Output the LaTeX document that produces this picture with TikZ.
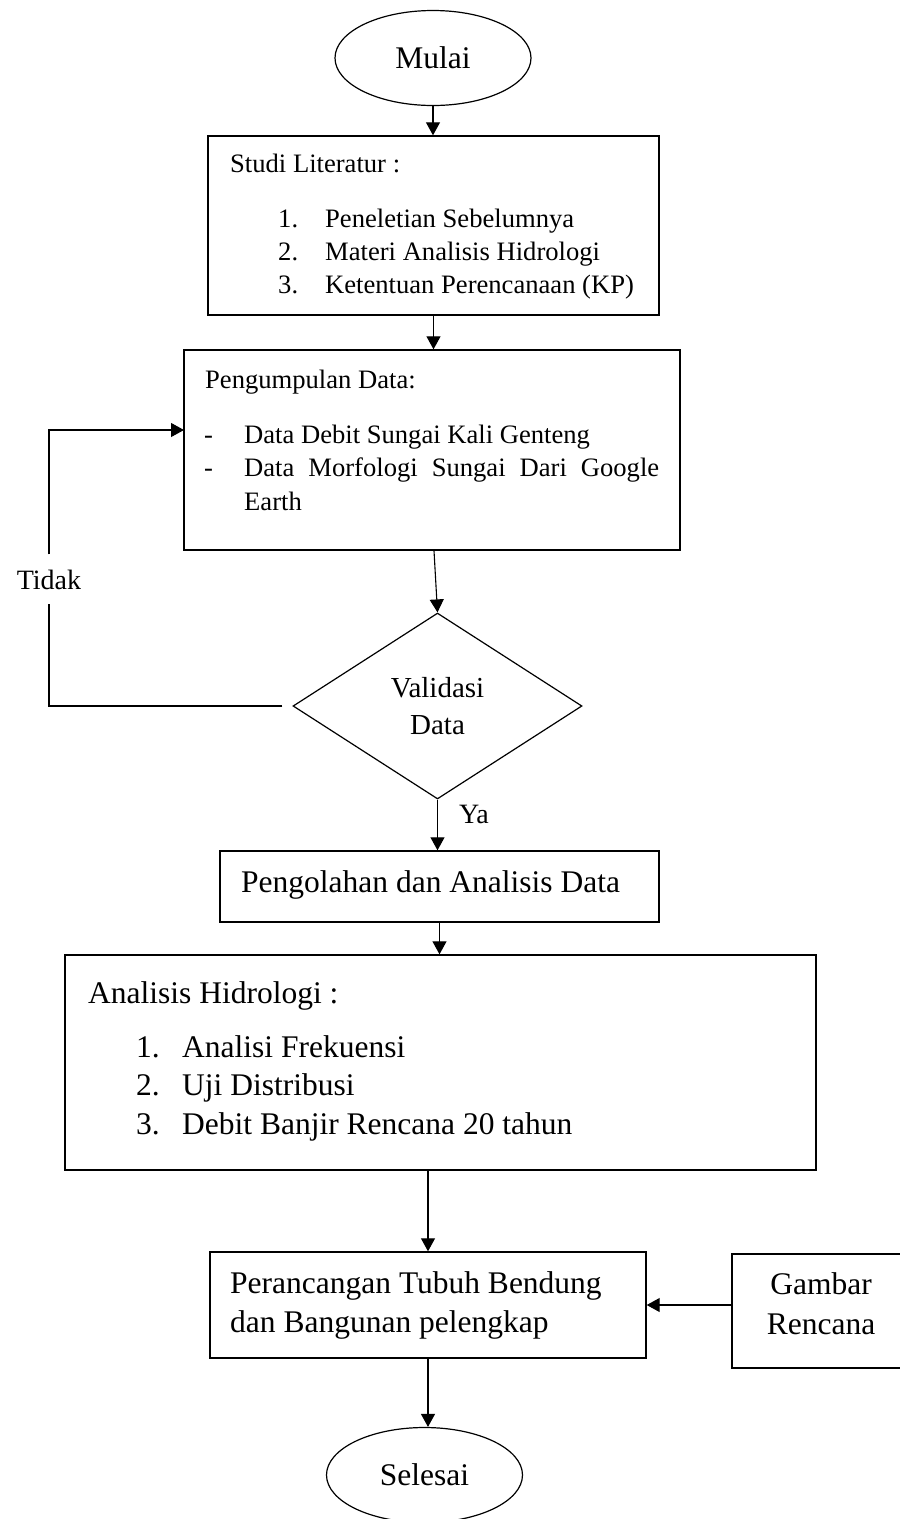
\documentclass[tikz,border=0pt]{standalone}
\usepackage{fontspec}
\setmainfont{Liberation Serif}
\usetikzlibrary{shapes.geometric,arrows.meta}

\newcommand{\fsmid}{\fontsize{26.6}{32}\selectfont}
\newcommand{\fsbig}{\fontsize{31.5}{38}\selectfont}

\tikzset{
  flowbox/.style={rectangle, draw=black, line width=1.4pt, inner sep=0pt},
  terminal/.style={ellipse, draw=black, line width=1.2pt, inner sep=0pt,
    minimum width=196pt, minimum height=95pt, font=\fsbig},
  decision/.style={diamond, draw=black, line width=1.2pt, inner sep=0pt,
    minimum width=289pt, minimum height=186pt, align=center,
    font=\fontsize{29}{37}\selectfont},
  boxtext/.style={anchor=base west, inner sep=0pt, text=black},
  flowline/.style={line width=1.1pt},
  flowarrow/.style={flowline, -{Triangle[length=13pt,width=14pt]}},
}

\begin{document}
\begin{tikzpicture}[x=1pt, y=-1pt]
  \useasboundingbox (0,0) rectangle (900,1519);

  % start
  \node[terminal] (mulai) at (433,58) {Mulai};

  % studi literatur
  \node[flowbox, minimum width=451pt, minimum height=179pt]
    (studi) at (433.5,225.5) {};
  \node[boxtext, font=\fsmid] (studiT) at (230,172) {Studi Literatur :};
  \node[boxtext, font=\fsmid] (studiN1) at (278,227) {1.};
  \node[boxtext, font=\fsmid] (studi1) at (325,227) {Peneletian Sebelumnya};
  \node[boxtext, font=\fsmid] (studiN2) at (278,260) {2.};
  \node[boxtext, font=\fsmid] (studi2) at (325,260) {Materi Analisis Hidrologi};
  \node[boxtext, font=\fsmid] (studiN3) at (278,293) {3.};
  \node[boxtext, font=\fsmid] (studi3) at (325,293) {Ketentuan Perencanaan (KP)};

  % pengumpulan data
  \node[flowbox, minimum width=496pt, minimum height=200pt]
    (pengumpulan) at (432,450) {};
  \node[boxtext, font=\fsmid] (dataT) at (205,388) {Pengumpulan Data:};
  \node[boxtext, font=\fsmid] (dataD1) at (204,443) {-};
  \node[boxtext, font=\fsmid] (data1) at (244,443) {Data Debit Sungai Kali Genteng};
  \node[boxtext, font=\fsmid] (dataD2) at (204,476) {-};
  \node[boxtext, font=\fsmid] (data2) at (244,476)
    {\makebox[415pt][s]{Data Morfologi Sungai Dari Google}};
  \node[boxtext, font=\fsmid] (data2b) at (244,510) {Earth};

  % validasi
  \node[decision] (validasi) at (437.5,706) {Validasi\\Data};
  \node[anchor=base, inner xsep=0pt, inner ysep=15pt,
    font=\fontsize{28}{32}\selectfont] (tidak) at (49,589) {Tidak};
  \node[anchor=base, inner sep=0pt, font=\fontsize{28}{32}\selectfont]
    (ya) at (474,823) {Ya};
  \coordinate (balik) at (184,430);

  % pengolahan
  \node[flowbox, minimum width=439pt, minimum height=71pt]
    (pengolahan) at (439.5,886.5) {};
  \node[boxtext, font=\fsbig] (olahT) at (241,892) {Pengolahan dan Analisis Data};

  % analisis hidrologi
  \node[flowbox, minimum width=751pt, minimum height=215pt]
    (analisis) at (440.5,1062.5) {};
  \node[boxtext, font=\fsbig] (hidroT) at (88,1003) {Analisis Hidrologi :};
  \node[boxtext, font=\fsbig] (hidroN1) at (136,1057) {1.};
  \node[boxtext, font=\fsbig] (hidro1) at (182,1057) {Analisi Frekuensi};
  \node[boxtext, font=\fsbig] (hidroN2) at (136,1095) {2.};
  \node[boxtext, font=\fsbig] (hidro2) at (182,1095) {Uji Distribusi};
  \node[boxtext, font=\fsbig] (hidroN3) at (136,1134) {3.};
  \node[boxtext, font=\fsbig] (hidro3) at (182,1134) {Debit Banjir Rencana 20 tahun};

  % perancangan
  \node[flowbox, minimum width=436pt, minimum height=106pt]
    (perancangan) at (428,1305) {};
  \node[boxtext, font=\fsbig] (rancang1) at (230,1293) {Perancangan Tubuh Bendung};
  \node[boxtext, font=\fsbig] (rancang2) at (230,1332) {dan Bangunan pelengkap};

  \node[flowbox, minimum width=176pt, minimum height=114pt]
    (gambar) at (820,1311) {};
  \node[anchor=base, inner sep=0pt, font=\fsbig] (gambar1) at (821,1294) {Gambar};
  \node[anchor=base, inner sep=0pt, font=\fsbig] (gambar2) at (821,1334) {Rencana};

  % end
  \node[terminal] (selesai) at (424.5,1475) {Selesai};

  % connectors
  \draw[flowarrow] (mulai.south) -- (mulai.south |- studi.north);
  \draw[flowarrow] (studi.south) -- (studi.south |- pengumpulan.north);
  \draw[flowarrow] ([xshift=2pt]pengumpulan.south) -- (validasi.north);
  \draw[flowline, shorten <=10pt] (validasi.west) -| (tidak.south);
  \draw[flowarrow] (tidak.north) |- (balik);
  \draw[flowarrow] (validasi.south) -- (validasi.south |- pengolahan.north);
  \draw[flowarrow] (pengolahan.south) -- (pengolahan.south |- analisis.north);
  \draw[flowarrow] (analisis.south -| perancangan.north) -- (perancangan.north);
  \draw[flowarrow] (perancangan.east -| gambar.west) -- (perancangan.east);
  \draw[flowarrow] (perancangan.south) -- (perancangan.south |- selesai.north);
\end{tikzpicture}
\end{document}
